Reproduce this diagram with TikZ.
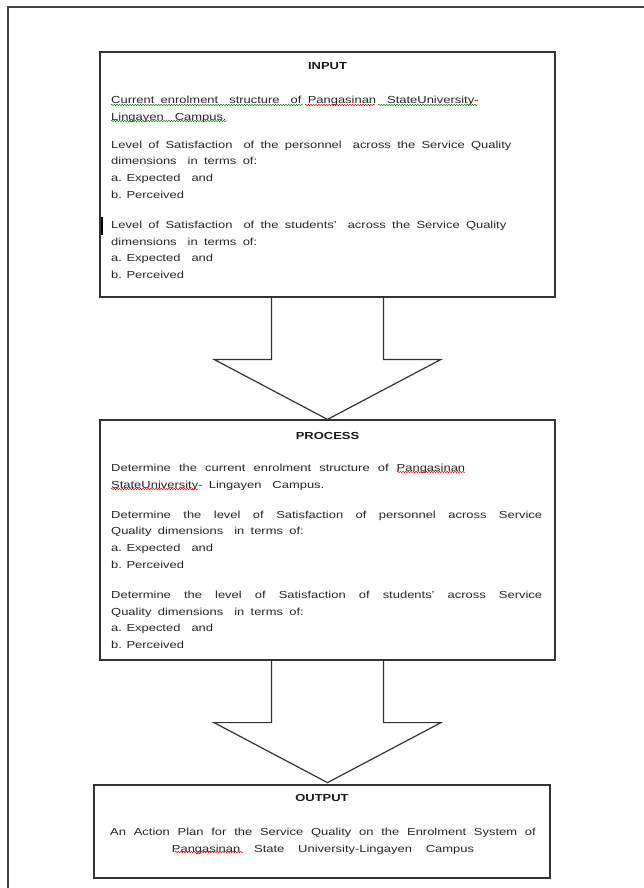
\documentclass[tikz,border=0pt]{standalone}
\usepackage{fontspec}
\setmainfont{Liberation Sans}[FakeStretch=1.27]
\usepackage{tikz}
\usetikzlibrary{decorations.pathmorphing}
\newcommand{\wgap}{\hspace{11pt}\ignorespaces}
\newcommand{\bodyfont}{\fontsize{10.2pt}{16.8pt}\selectfont}
\newcommand{\widespaces}{\spaceskip=6.3pt plus 2pt minus 1pt\relax}

\begin{document}
\begin{tikzpicture}[x=1pt, y=-1pt,
  box/.style={draw=black!80, line width=1.2pt, minimum width=455pt, inner sep=0pt},
  heading/.style={font=\bfseries\fontsize{10.2pt}{12pt}\selectfont, inner sep=0pt, text=black!90},
  body/.style={font=\bodyfont, text width=431pt, align=justify, inner sep=0pt, anchor=north west,
    text=black!85, execute at begin node=\widespaces},
  blockarrow/.style={draw=black!80, line width=1.2pt, line join=miter},
  frame/.style={draw=black!75, line width=1.3pt},
  spell/.style={decorate, decoration={snake, amplitude=0.7pt, segment length=2.6pt}, line width=0.5pt}]
  \useasboundingbox (0,0) rectangle (644,888);
  \draw[frame] (8,888) |- (644,7);

  \node[box, minimum height=245pt] (input) at (327.5,174.5) {};
  \node[heading] (inputtitle) at (327.5,66) {INPUT};
  \node[body] (inputtext) at (111,96) {%
    Current enrolment\wgap structure\wgap of Pangasinan\wgap StateUniversity-\\
    Lingayen\wgap Campus.\\[11pt]
    Level of Satisfaction\wgap of the personnel\wgap across the Service Quality\\
    dimensions\wgap in terms of:\\
    a.\hspace{-3pt} Expected\wgap and\\
    b.\hspace{-3pt} Perceived\\[13pt]
    Level of Satisfaction\wgap of the students'\wgap across the Service Quality\\
    dimensions\wgap in terms of:\\
    a.\hspace{-3pt} Expected\wgap and\\
    b.\hspace{-3pt} Perceived};
  \draw[line width=2.4pt] (102,217) -- (102,235);

  \node[box, minimum height=240pt] (process) at (327.5,540) {};
  \node[heading] (processtitle) at (327.5,436) {PROCESS};
  \node[body] (processtext) at (111,464) {%
    \makebox[354pt][s]{Determine the current enrolment structure of Pangasinan}\\
    StateUniversity- Lingayen\wgap Campus.\\[13pt]
    \makebox[431pt][s]{Determine the level of Satisfaction of personnel across Service}\\
    Quality dimensions\wgap in terms of:\\
    a.\hspace{-3pt} Expected\wgap and\\
    b.\hspace{-3pt} Perceived\\[13pt]
    \makebox[431pt][s]{Determine the level of Satisfaction of students' across Service}\\
    Quality dimensions\wgap in terms of:\\
    a.\hspace{-3pt} Expected\wgap and\\
    b.\hspace{-3pt} Perceived};

  \node[box, minimum width=456pt, minimum height=93pt] (output) at (322,831.5) {};
  \node[heading] (outputtitle) at (322,798) {OUTPUT};
  \node[font=\bodyfont, text width=456pt, align=center, inner sep=0pt, text=black!85, anchor=north,
    execute at begin node=\widespaces]
    (outputtext) at (323,828) {An Action Plan for the Service Quality on the Enrolment System of\\
    Pangasinan State University-Lingayen Campus};

  % block arrows between the boxes
  \coordinate (tip1) at (process.north);
  \coordinate (tip2) at ([yshift=-122pt]process.south);
  \draw[blockarrow] ([xshift=-56pt]input.south) |- ([xshift=-113.5pt,yshift=60pt]tip1)
    -- (tip1) -- ([xshift=113.5pt,yshift=60pt]tip1) -| ([xshift=56pt]input.south);
  \draw[blockarrow] ([xshift=-56pt]process.south) |- ([xshift=-113.5pt,yshift=60pt]tip2)
    -- (tip2) -- ([xshift=113.5pt,yshift=60pt]tip2) -| ([xshift=56pt]process.south);

  % spelling marks
  \draw[spell, green!55!black] (111,105) -- (303,105);
  \draw[spell, red] (305,105) -- (375,105);
  \draw[spell, green!55!black] (378,105) -- (478,105);
  \draw[spell, green!55!black] (111,121) -- (227,121);
  \draw[spell, red] (397,472) -- (465,472);
  \draw[spell, red] (111,489) -- (198,489);
  \draw[spell, red] (175,852) -- (243,852);
\end{tikzpicture}
\end{document}
